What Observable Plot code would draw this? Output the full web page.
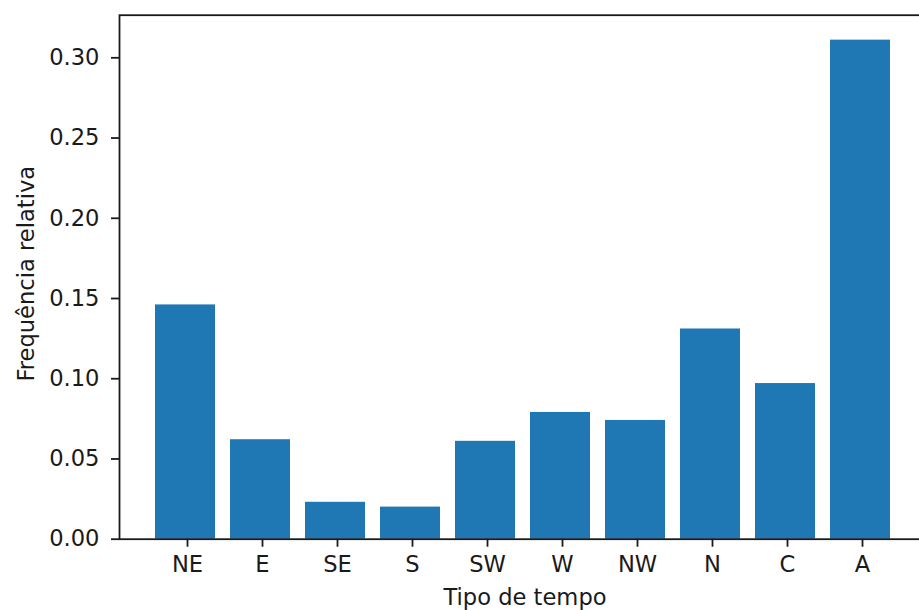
<!DOCTYPE html>
<html>
<head>
<meta charset="utf-8">
<script src="https://cdn.jsdelivr.net/npm/d3@7"></script>
<script src="https://cdn.jsdelivr.net/npm/@observablehq/plot@0.6"></script>
<style>
  html, body { margin: 0; padding: 0; background: #fff; overflow: hidden; }
  #chart { width: 919px; height: 610px; }
</style>
</head>
<body>
<div id="chart"></div>
<script>
// Weather types and their relative frequency
const categories = ["NE", "E", "SE", "S", "SW", "W", "NW", "N", "C", "A"];
const frequencies = [0.146, 0.062, 0.023, 0.020, 0.061, 0.079, 0.074, 0.131, 0.097, 0.311];
const yTicks = [0.00, 0.05, 0.10, 0.15, 0.20, 0.25, 0.30];
const xLabel = "Tipo de tempo";
const yLabel = "Frequência relativa";

const rows = categories.map((c, i) => ({type: c, freq: frequencies[i]}));

const W = 919, H = 610;
const mLeft = 119, mTop = 14.7, mBottom = 71.3;
const fs = 22.6;
const ink = "#1a1a1a";
const yMax = d3.max(frequencies) * 1.05;

const chart = Plot.plot({
  width: W,
  height: H,
  marginLeft: mLeft,
  marginRight: 0,
  marginTop: mTop,
  marginBottom: mBottom,
  style: {fontFamily: "DejaVu Sans", color: ink, background: "#fff"},
  x: {domain: categories, range: [117.6, 928.3], paddingInner: 0.2, paddingOuter: 0.49},
  y: {domain: [0, yMax]},
  marks: [
    Plot.barY(rows, {x: "type", y: "freq", fill: "#1f77b4"}),
    Plot.frame({stroke: ink, strokeWidth: 1.8, insetRight: -20}),
    Plot.axisY({
      ticks: yTicks, tickFormat: d3.format(".2f"), tickSize: 8, tickPadding: 12,
      strokeWidth: 1.8, fontSize: fs, label: null
    }),
    Plot.axisX({
      tickSize: 8, tickPadding: 9, strokeWidth: 1.8, fontSize: fs, label: null, dx: 2
    }),
    Plot.text([xLabel], {
      text: d => d, frameAnchor: "bottom", lineAnchor: "bottom",
      dx: 5.5, dy: 65.3, fontSize: fs, fill: ink
    }),
    Plot.text([yLabel], {
      text: d => d, frameAnchor: "left", rotate: -90, textAnchor: "middle",
      lineAnchor: "bottom", dx: -86, dy: -3.5, fontSize: fs, fill: ink
    })
  ]
});

document.getElementById("chart").appendChild(chart);
</script>
</body>
</html>
